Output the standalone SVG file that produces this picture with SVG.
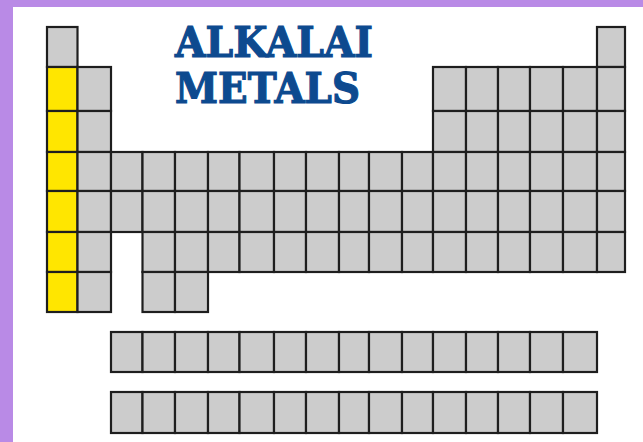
<svg xmlns="http://www.w3.org/2000/svg" width="643" height="442" viewBox="0 0 643 442">
<style>
rect.c{fill:#cccccc;stroke:#1e1e1e;stroke-width:2.2}
rect.y{fill:#ffe600;stroke:#1e1e1e;stroke-width:2.2}
text.t{font-family:"DejaVu Serif","Liberation Serif",serif;font-weight:bold;font-size:42px;fill:#0d4a8f;stroke:#0d4a8f;stroke-width:1.2}
</style>
<rect x="0" y="0" width="643" height="442" fill="#ffffff"/>
<rect x="0" y="0" width="643" height="7" fill="#b98ae6"/>
<rect x="0" y="0" width="13" height="442" fill="#b98ae6"/>
<g id="title">
<text class="t" x="175" y="57" textLength="198" lengthAdjust="spacingAndGlyphs">ALKALAI</text>
<text class="t" x="175" y="102.5" textLength="185" lengthAdjust="spacingAndGlyphs">METALS</text>
</g>
<g id="period1">
<rect class="c" x="47" y="27" width="30.5" height="40"/>
<rect class="c" x="597" y="27" width="28" height="40"/>
</g>
<g id="period2">
<rect class="y" x="47" y="67" width="30.5" height="44"/>
<rect class="c" x="77.5" y="67" width="33.5" height="44"/>
<rect class="c" x="433" y="67" width="33" height="44"/>
<rect class="c" x="466" y="67" width="32" height="44"/>
<rect class="c" x="498" y="67" width="32" height="44"/>
<rect class="c" x="530" y="67" width="33" height="44"/>
<rect class="c" x="563" y="67" width="34" height="44"/>
<rect class="c" x="597" y="67" width="28" height="44"/>
</g>
<g id="period3">
<rect class="y" x="47" y="111" width="30.5" height="41"/>
<rect class="c" x="77.5" y="111" width="33.5" height="41"/>
<rect class="c" x="433" y="111" width="33" height="41"/>
<rect class="c" x="466" y="111" width="32" height="41"/>
<rect class="c" x="498" y="111" width="32" height="41"/>
<rect class="c" x="530" y="111" width="33" height="41"/>
<rect class="c" x="563" y="111" width="34" height="41"/>
<rect class="c" x="597" y="111" width="28" height="41"/>
</g>
<g id="period4">
<rect class="y" x="47" y="152" width="30.5" height="39"/>
<rect class="c" x="77.5" y="152" width="33.5" height="39"/>
<rect class="c" x="111" y="152" width="31.5" height="39"/>
<rect class="c" x="142.5" y="152" width="32.5" height="39"/>
<rect class="c" x="175" y="152" width="33" height="39"/>
<rect class="c" x="208" y="152" width="31.5" height="39"/>
<rect class="c" x="239.5" y="152" width="34.5" height="39"/>
<rect class="c" x="274" y="152" width="32" height="39"/>
<rect class="c" x="306" y="152" width="33" height="39"/>
<rect class="c" x="339" y="152" width="30" height="39"/>
<rect class="c" x="369" y="152" width="33" height="39"/>
<rect class="c" x="402" y="152" width="31" height="39"/>
<rect class="c" x="433" y="152" width="33" height="39"/>
<rect class="c" x="466" y="152" width="32" height="39"/>
<rect class="c" x="498" y="152" width="32" height="39"/>
<rect class="c" x="530" y="152" width="33" height="39"/>
<rect class="c" x="563" y="152" width="34" height="39"/>
<rect class="c" x="597" y="152" width="28" height="39"/>
</g>
<g id="period5">
<rect class="y" x="47" y="191" width="30.5" height="41"/>
<rect class="c" x="77.5" y="191" width="33.5" height="41"/>
<rect class="c" x="111" y="191" width="31.5" height="41"/>
<rect class="c" x="142.5" y="191" width="32.5" height="41"/>
<rect class="c" x="175" y="191" width="33" height="41"/>
<rect class="c" x="208" y="191" width="31.5" height="41"/>
<rect class="c" x="239.5" y="191" width="34.5" height="41"/>
<rect class="c" x="274" y="191" width="32" height="41"/>
<rect class="c" x="306" y="191" width="33" height="41"/>
<rect class="c" x="339" y="191" width="30" height="41"/>
<rect class="c" x="369" y="191" width="33" height="41"/>
<rect class="c" x="402" y="191" width="31" height="41"/>
<rect class="c" x="433" y="191" width="33" height="41"/>
<rect class="c" x="466" y="191" width="32" height="41"/>
<rect class="c" x="498" y="191" width="32" height="41"/>
<rect class="c" x="530" y="191" width="33" height="41"/>
<rect class="c" x="563" y="191" width="34" height="41"/>
<rect class="c" x="597" y="191" width="28" height="41"/>
</g>
<g id="period6">
<rect class="y" x="47" y="232" width="30.5" height="40"/>
<rect class="c" x="77.5" y="232" width="33.5" height="40"/>
<rect class="c" x="142.5" y="232" width="32.5" height="40"/>
<rect class="c" x="175" y="232" width="33" height="40"/>
<rect class="c" x="208" y="232" width="31.5" height="40"/>
<rect class="c" x="239.5" y="232" width="34.5" height="40"/>
<rect class="c" x="274" y="232" width="32" height="40"/>
<rect class="c" x="306" y="232" width="33" height="40"/>
<rect class="c" x="339" y="232" width="30" height="40"/>
<rect class="c" x="369" y="232" width="33" height="40"/>
<rect class="c" x="402" y="232" width="31" height="40"/>
<rect class="c" x="433" y="232" width="33" height="40"/>
<rect class="c" x="466" y="232" width="32" height="40"/>
<rect class="c" x="498" y="232" width="32" height="40"/>
<rect class="c" x="530" y="232" width="33" height="40"/>
<rect class="c" x="563" y="232" width="34" height="40"/>
<rect class="c" x="597" y="232" width="28" height="40"/>
</g>
<g id="period7">
<rect class="y" x="47" y="272" width="30.5" height="40"/>
<rect class="c" x="77.5" y="272" width="33.5" height="40"/>
<rect class="c" x="142.5" y="272" width="32.5" height="40"/>
<rect class="c" x="175" y="272" width="33" height="40"/>
</g>
<g id="lanthanides">
<rect class="c" x="111" y="332" width="31.5" height="40"/>
<rect class="c" x="142.5" y="332" width="32.5" height="40"/>
<rect class="c" x="175" y="332" width="33" height="40"/>
<rect class="c" x="208" y="332" width="31.5" height="40"/>
<rect class="c" x="239.5" y="332" width="34.5" height="40"/>
<rect class="c" x="274" y="332" width="32" height="40"/>
<rect class="c" x="306" y="332" width="33" height="40"/>
<rect class="c" x="339" y="332" width="30" height="40"/>
<rect class="c" x="369" y="332" width="33" height="40"/>
<rect class="c" x="402" y="332" width="31" height="40"/>
<rect class="c" x="433" y="332" width="33" height="40"/>
<rect class="c" x="466" y="332" width="32" height="40"/>
<rect class="c" x="498" y="332" width="32" height="40"/>
<rect class="c" x="530" y="332" width="33" height="40"/>
<rect class="c" x="563" y="332" width="34" height="40"/>
</g>
<g id="actinides">
<rect class="c" x="111" y="392" width="31.5" height="41"/>
<rect class="c" x="142.5" y="392" width="32.5" height="41"/>
<rect class="c" x="175" y="392" width="33" height="41"/>
<rect class="c" x="208" y="392" width="31.5" height="41"/>
<rect class="c" x="239.5" y="392" width="34.5" height="41"/>
<rect class="c" x="274" y="392" width="32" height="41"/>
<rect class="c" x="306" y="392" width="33" height="41"/>
<rect class="c" x="339" y="392" width="30" height="41"/>
<rect class="c" x="369" y="392" width="33" height="41"/>
<rect class="c" x="402" y="392" width="31" height="41"/>
<rect class="c" x="433" y="392" width="33" height="41"/>
<rect class="c" x="466" y="392" width="32" height="41"/>
<rect class="c" x="498" y="392" width="32" height="41"/>
<rect class="c" x="530" y="392" width="33" height="41"/>
<rect class="c" x="563" y="392" width="34" height="41"/>
</g>
<g id="connectors"/>
</svg>
